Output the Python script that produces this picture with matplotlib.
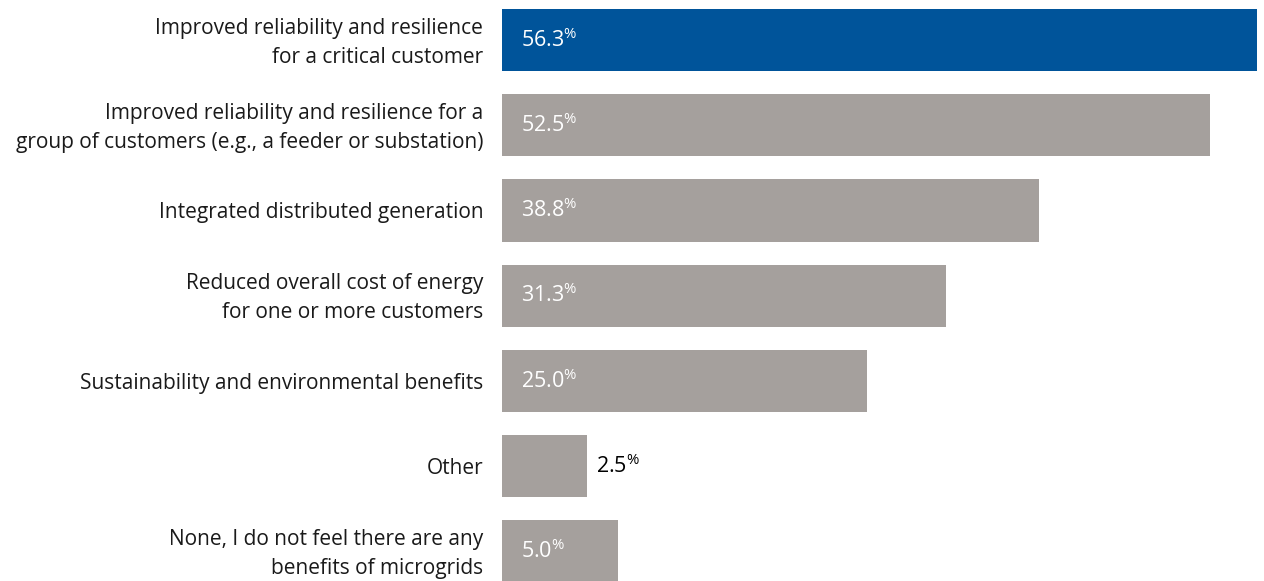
import matplotlib
matplotlib.use("Agg")
import matplotlib.pyplot as plt

# --- survey results: perceived benefits of microgrids ---
categories = [
    "Improved reliability and resilience\nfor a critical customer",
    "Improved reliability and resilience for a\ngroup of customers (e.g., a feeder or substation)",
    "Integrated distributed generation",
    "Reduced overall cost of energy\nfor one or more customers",
    "Sustainability and environmental benefits",
    "Other",
    "None, I do not feel there are any\nbenefits of microgrids",
]
values = [56.3, 52.5, 38.8, 31.3, 25.0, 2.5, 5.0]

BLUE = "#00549A"
GRAY = "#A5A09D"
base = 4.3  # bars start a little left of zero

plt.rcParams["font.family"] = ["Open Sans", "DejaVu Sans"]
plt.rcParams["mathtext.fontset"] = "custom"
plt.rcParams["mathtext.rm"] = "Open Sans"

fig = plt.figure(figsize=(12.64, 5.81), dpi=100)
ax = fig.add_axes([502 / 1264, 0, (1257 - 502) / 1264, 1])

colors = [BLUE] + [GRAY] * (len(values) - 1)
ys = range(len(values))
ax.barh(ys, [v + base for v in values], left=-base, height=0.73, color=colors)

ax.set_xlim(-base, max(values))
ax.set_ylim(6.35, -0.47)
ax.axis("off")

for y, (cat, v) in enumerate(zip(categories, values)):
    ax.text(-base - 1.5, y + 0.03, cat, ha="right", va="center", fontsize=15,
            color="#1a1a1a", linespacing=1.5)
    label = r"$\mathregular{%.1f^{\%%}}$" % v
    if v < 4:
        ax.annotate(label, (v, y), xytext=(7, 0), textcoords="offset points",
                    ha="left", va="center", fontsize=15.5, color="black")
    else:
        ax.annotate(label, (-base, y), xytext=(14, 0), textcoords="offset points",
                    ha="left", va="center", fontsize=15.5, color="white")

fig.savefig("out.png", dpi=100)
